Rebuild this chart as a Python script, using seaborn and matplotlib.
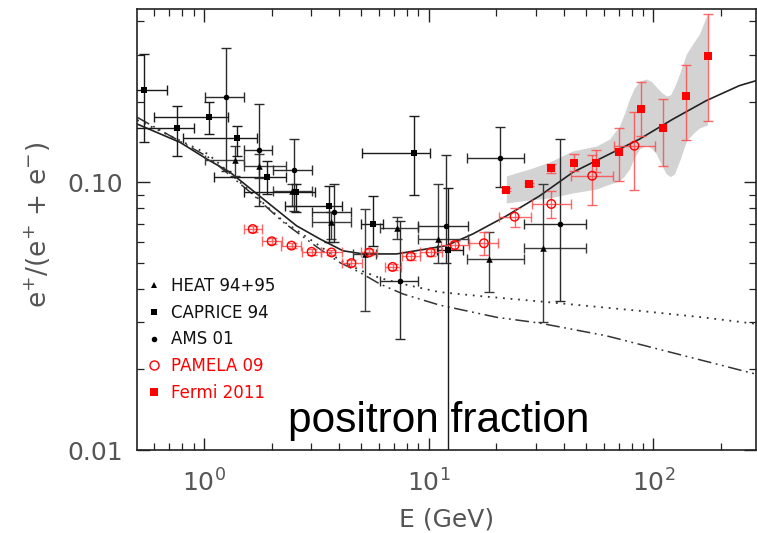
import numpy as np
import pandas as pd
import matplotlib
matplotlib.use("Agg")
import matplotlib.pyplot as plt
from matplotlib.ticker import FixedLocator, FixedFormatter, LogLocator, NullFormatter, LogFormatterMathtext
from matplotlib.lines import Line2D
import seaborn as sns

# ---------------- measurements ----------------
# HEAT 94+95
heat_E = [1.37, 1.76, 2.47, 3.67, 5.19, 7.20, 11.0, 18.5, 32.2]
heat_f = [0.121, 0.1154, 0.093, 0.0713, 0.054, 0.0673, 0.0614, 0.0516, 0.0567]
heat_f_lo = [0.1058, 0.104, 0.0818, 0.0614, 0.0331, 0.0614, 0.050, 0.0388, 0.030]
heat_f_hi = [0.137, 0.128, 0.0986, 0.0773, 0.0795, 0.074, 0.0985, 0.065, 0.0985]
heat_E_lo = [1.013, 1.51, 2.02, 3.01, 4.60, 6.06, 8.96, 14.8, 26.5]
heat_E_hi = [1.50, 2.31, 3.03, 4.53, 5.85, 8.96, 14.9, 26.5, 49.9]

# CAPRICE 94
cap_E = [0.543, 0.756, 1.049, 1.405, 1.91, 2.56, 3.58, 5.62, 8.58, 12.2]
cap_f = [0.222, 0.159, 0.176, 0.146, 0.105, 0.0917, 0.0818, 0.0698, 0.1285, 0.0559]
cap_f_lo = [0.141, 0.125, 0.151, 0.125, 0.0905, 0.0777, 0.0597, 0.058, 0.0897, 0.005]
cap_f_hi = [0.302, 0.193, 0.200, 0.1627, 0.1205, 0.0985, 0.0971, 0.0891, 0.1764, 0.095]
cap_E_lo = [0.45, 0.49, 0.601, 0.809, 1.108, 1.50, 2.30, 5.00, 5.02, 10.9]
cap_E_hi = [0.683, 0.905, 1.274, 1.714, 2.31, 3.11, 4.10, 6.27, 10.1, 14.2]

# AMS 01
ams_E = [1.256, 1.755, 2.51, 3.77, 7.48, 11.9, 20.7, 38.2]
ams_f = [0.209, 0.132, 0.1115, 0.0777, 0.0429, 0.0688, 0.1236, 0.0697]
ams_f_lo = [0.110, 0.0818, 0.0783, 0.0598, 0.0259, 0.050, 0.0958, 0.0359]
ams_f_hi = [0.317, 0.196, 0.145, 0.0985, 0.0719, 0.127, 0.161, 0.145]
ams_E_lo = [1.01, 1.51, 2.02, 3.03, 6.06, 8.96, 14.8, 26.5]
ams_E_hi = [1.51, 2.01, 3.03, 4.53, 8.96, 14.9, 26.5, 49.9]

# PAMELA 09
pam_E = [1.646, 2.0, 2.45, 3.01, 3.69, 4.53, 5.43, 6.90, 8.32, 10.2, 13.05, 17.6, 24.1, 35.1, 53.4, 82.3]
pam_f = [0.0669, 0.0602, 0.058, 0.055, 0.0547, 0.0499, 0.0547, 0.0483, 0.0529, 0.0547, 0.0583, 0.0592, 0.0744, 0.083, 0.1058, 0.137]
pam_f_lo = [0.0652, 0.0588, 0.0566, 0.0537, 0.0534, 0.0486, 0.0533, 0.0470, 0.0514, 0.0530, 0.0562, 0.0535, 0.0683, 0.0734, 0.0825, 0.0936]
pam_f_hi = [0.0686, 0.0617, 0.0595, 0.0564, 0.0561, 0.0512, 0.0562, 0.0497, 0.0545, 0.0565, 0.0605, 0.0650, 0.0800, 0.0925, 0.1268, 0.1836]
pam_E_lo = [1.50, 1.805, 2.21, 2.72, 3.33, 4.09, 5.00, 6.36, 7.59, 9.12, 11.31, 15.17, 20.46, 28.7, 43.1, 66.7]
pam_E_hi = [1.805, 2.216, 2.71, 3.33, 4.09, 5.02, 5.89, 7.49, 9.12, 11.41, 15.06, 20.4, 28.4, 42.9, 66.2, 101.6]

# Fermi 2011
fermi_E = [22.1, 27.8, 35.1, 44.2, 55.6, 69.9, 88.2, 110.8, 139.7, 175.6]
fermi_f = [0.0938, 0.0985, 0.1131, 0.118, 0.118, 0.130, 0.188, 0.159, 0.2096, 0.297]
fermi_f_lo = [0.0925, 0.0972, 0.1083, 0.1099, 0.1095, 0.101, 0.149, 0.1146, 0.144, 0.169]
fermi_f_hi = [0.0951, 0.0998, 0.117, 0.1275, 0.132, 0.160, 0.236, 0.205, 0.274, 0.425]

# Fermi systematic band
band_E = [22.14, 25.0, 28.1, 34.5, 43.6, 55.8, 63.8, 70.6, 74.5, 78.2, 82.0, 86.7, 93.1, 98.0,
          103.1, 108.5, 114.2, 119.0, 124.0, 131.5, 140.2, 150.0, 160.1, 173.8]
band_hi = [0.1056, 0.1090, 0.1121, 0.1191, 0.1309, 0.1367, 0.1451, 0.1623, 0.1820, 0.2048, 0.2240,
           0.2390, 0.2431, 0.2380, 0.2270, 0.2170, 0.2101, 0.2120, 0.2270, 0.2580, 0.3016, 0.3300,
           0.3581, 0.4253]
band_lo = [0.0837, 0.0848, 0.0859, 0.0874, 0.0912, 0.0944, 0.0985, 0.1011, 0.1060, 0.1121, 0.1230,
           0.1332, 0.1378, 0.1340, 0.1275, 0.1160, 0.1074, 0.1050, 0.1074, 0.1220, 0.1427, 0.1520,
           0.1595, 0.1637]

# model curves
model_E = [0.504, 0.782, 1.028, 1.305, 1.835, 2.58, 3.28, 4.15, 5.09, 7.19, 12.0, 15.7, 22.1, 31.1,
           43.8, 61.6, 86.7, 121.8, 171.5, 241.0, 286.0]
model_f = [0.165, 0.141, 0.1222, 0.109, 0.0866, 0.0688, 0.0614, 0.0555, 0.054, 0.054, 0.058, 0.0641,
           0.0748, 0.0889, 0.109, 0.1257, 0.145, 0.172, 0.2017, 0.2296, 0.2396]

sec1_E = [0.504, 1.042, 1.601, 2.245, 3.18, 4.01, 4.93, 6.06, 7.66, 11.14, 16.85, 33.5, 86.7, 160.0, 286.0]
sec1_f = [0.1709, 0.1275, 0.0928, 0.0717, 0.0588, 0.0513, 0.0470, 0.0439, 0.0417, 0.0389, 0.0376, 0.0357, 0.0331, 0.0314, 0.0296]

sec2_E = [0.504, 1.042, 1.601, 2.245, 3.18, 4.01, 4.93, 6.06, 7.66, 11.14, 20.1, 31.1, 61.8, 286.0]
sec2_f = [0.1749, 0.1243, 0.0920, 0.0711, 0.0573, 0.0502, 0.0461, 0.0417, 0.0383, 0.0348, 0.0313, 0.0298, 0.0267, 0.0192]

legend_labels = ["HEAT 94+95", "CAPRICE 94", "AMS 01", "PAMELA 09", "Fermi 2011"]

# ---------------- figure ----------------
sns.set_theme(style="ticks")
plt.rcParams["font.family"] = ["DejaVu Sans"]

fig = plt.figure(figsize=(7.57, 5.33), dpi=100)
ax = fig.add_axes([137 / 757, 83 / 533, 619 / 757, 441 / 533])
ax.set_xscale("log")
ax.set_yscale("log")
ax.set_xlim(0.503, 286)
ax.set_ylim(0.01, 0.444)

RED = "#ff0000"
ERR_RED = "#ff4d4d"

# systematic band
ax.fill_between(band_E, band_lo, band_hi, color="#d3d3d3", lw=0, zorder=1)

# model curves
curves = pd.DataFrame({"E": model_E, "f": model_f})
sns.lineplot(data=curves, x="E", y="f", ax=ax, color="#222222", lw=1.2,
             sort=False, estimator=None, zorder=2)
sec1 = pd.DataFrame({"E": sec1_E, "f": sec1_f})
sns.lineplot(data=sec1, x="E", y="f", ax=ax, color="#333333", lw=1.3,
             sort=False, estimator=None, zorder=2)
ax.lines[-1].set_dashes((1.0, 3.2))
sec2 = pd.DataFrame({"E": sec2_E, "f": sec2_f})
sns.lineplot(data=sec2, x="E", y="f", ax=ax, color="#333333", lw=1.1,
             sort=False, estimator=None, zorder=2)
ax.lines[-1].set_dashes((9, 3, 1.2, 3, 1.2, 3))


def err(E, f, Elo, Ehi, flo, fhi, color, alpha=1.0, lw=1.0, z=3):
    E = np.asarray(E); f = np.asarray(f)
    xerr = None
    if Elo is not None:
        xerr = [E - np.asarray(Elo), np.asarray(Ehi) - E]
    yerr = [f - np.asarray(flo), np.asarray(fhi) - f]
    ax.errorbar(E, f, xerr=xerr, yerr=yerr, fmt="none", ecolor=color,
                elinewidth=lw, capsize=3.5, capthick=lw, alpha=alpha, zorder=z)


err(heat_E, heat_f, heat_E_lo, heat_E_hi, heat_f_lo, heat_f_hi, "#3a3a3a")
err(cap_E, cap_f, cap_E_lo, cap_E_hi, cap_f_lo, cap_f_hi, "#1a1a1a")
err(ams_E, ams_f, ams_E_lo, ams_E_hi, ams_f_lo, ams_f_hi, "#2a2a2a")
err(pam_E, pam_f, pam_E_lo, pam_E_hi, pam_f_lo, pam_f_hi, ERR_RED, alpha=0.85)
err(fermi_E, fermi_f, None, None, fermi_f_lo, fermi_f_hi, ERR_RED, alpha=0.85)

# markers
sns.scatterplot(x=heat_E, y=heat_f, marker="^", s=22, color="black", linewidth=0, ax=ax, zorder=4)
sns.scatterplot(x=cap_E, y=cap_f, marker="s", s=20, color="black", linewidth=0, ax=ax, zorder=4)
sns.scatterplot(x=ams_E, y=ams_f, marker="o", s=16, color="black", linewidth=0, ax=ax, zorder=4)
sns.scatterplot(x=pam_E, y=pam_f, marker="o", s=38, facecolor="none", edgecolor=RED,
                linewidth=1.0, ax=ax, zorder=4)
sns.scatterplot(x=fermi_E, y=fermi_f, marker="s", s=36, color=RED, linewidth=0, ax=ax, zorder=5)

# axes styling
for sp in ax.spines.values():
    sp.set_visible(True)
    sp.set_color("#222222")
    sp.set_linewidth(1.2)

ax.xaxis.set_major_locator(FixedLocator([1, 10, 100]))
ax.xaxis.set_major_formatter(LogFormatterMathtext())
ax.xaxis.set_minor_locator(LogLocator(base=10, subs=np.arange(2, 10), numticks=20))
ax.xaxis.set_minor_formatter(NullFormatter())
ax.yaxis.set_major_locator(FixedLocator([0.01, 0.1]))
ax.yaxis.set_major_formatter(FixedFormatter(["0.01", "0.10"]))
ax.yaxis.set_minor_locator(LogLocator(base=10, subs=np.arange(2, 10), numticks=20))
ax.yaxis.set_minor_formatter(NullFormatter())

ax.tick_params(which="both", direction="in", top=True, right=True, color="#222222")
ax.tick_params(which="major", length=9, width=1.0)
ax.tick_params(which="minor", length=5, width=0.9)
ax.tick_params(axis="x", which="major", labelsize=18, labelcolor="#555555", pad=14)
ax.tick_params(axis="y", which="major", labelsize=18, labelcolor="#555555", pad=10)

ax.set_xlabel("E (GeV)", fontsize=18, color="#555555")
ax.xaxis.set_label_coords(0.5, -0.13)
ax.set_ylabel(r"e$^{+}$/(e$^{+}$ + e$^{-}$)", fontsize=19, color="#555555")
ax.yaxis.set_label_coords(-0.135, 0.51)

# big annotation
ax.text(0.2435, 0.0415, "positron fraction", transform=ax.transAxes,
        fontsize=30.5, family=["Liberation Sans", "DejaVu Sans"], color="black",
        ha="left", va="baseline", zorder=6)

# legend
handles = [
    Line2D([], [], ls="none", marker="^", ms=4.5, color="black", mew=0),
    Line2D([], [], ls="none", marker="s", ms=4.3, color="black", mew=0),
    Line2D([], [], ls="none", marker="o", ms=4.0, color="black", mew=0),
    Line2D([], [], ls="none", marker="o", ms=6.5, mfc="none", mec=RED, mew=1.0),
    Line2D([], [], ls="none", marker="s", ms=5.8, color=RED, mew=0),
]
leg = ax.legend(handles, legend_labels, loc="upper left", bbox_to_anchor=(0.0166, 0.392),
                frameon=False, fontsize=12, handlelength=0.8, handletextpad=0.62,
                labelspacing=0.52, borderpad=0, borderaxespad=0,
                labelcolor=["#111111", "#111111", "#111111", RED, RED])

fig.savefig("out.png", dpi=100)
